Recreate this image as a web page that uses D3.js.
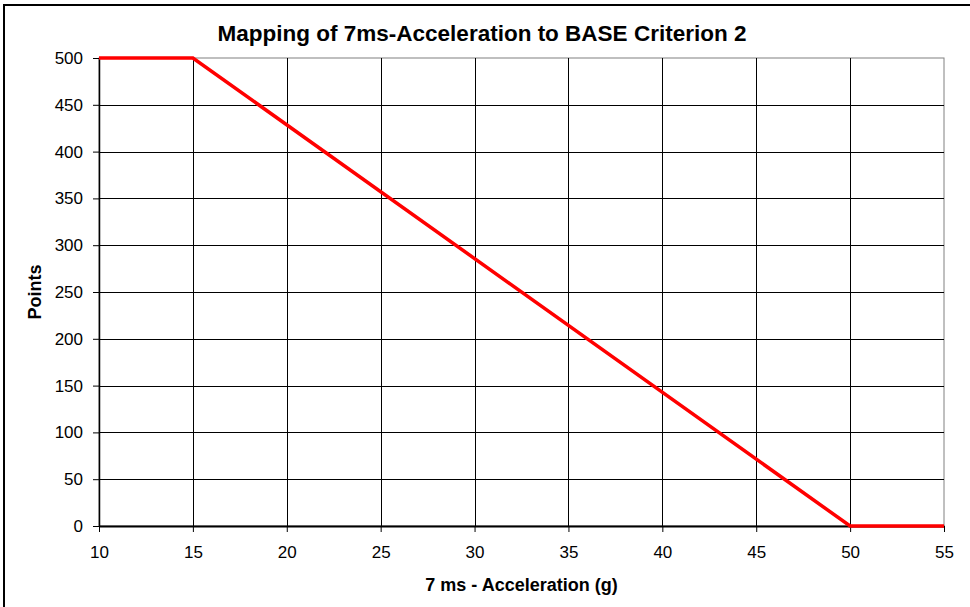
<!DOCTYPE html>
<html>
<head>
<meta charset="utf-8">
<script src="https://cdnjs.cloudflare.com/ajax/libs/d3/7.8.5/d3.min.js"></script>
<style>
  body { margin: 0; background: #fff; }
  text { font-family: Arial, "Liberation Sans", sans-serif; fill: #000; }
</style>
</head>
<body>
<div id="chart-area"></div>
<script>
// Data
var accel = [10, 15, 50, 55];
var points = [500, 500, 0, 0];
var xTicks = [10, 15, 20, 25, 30, 35, 40, 45, 50, 55];
var yTicks = [0, 50, 100, 150, 200, 250, 300, 350, 400, 450, 500];

var W = 970, H = 607;
var margin = { left: 99, right: 26, top: 58, bottom: 81 },
  width = W - margin.left - margin.right,
  height = H - margin.top - margin.bottom;

var svg = d3.select("#chart-area").append("svg")
  .attr("width", W)
  .attr("height", H);

// outer chart border (runs off right/bottom edge)
svg.append("rect")
  .attr("x", 4).attr("y", 5)
  .attr("width", W + 10).attr("height", H + 10)
  .attr("fill", "none")
  .attr("stroke", "#000")
  .attr("stroke-width", 2);

var g = svg.append("g")
  .attr("transform", "translate(" + margin.left + "," + margin.top + ")");

// Scales
var x = d3.scaleLinear().domain([10, 55]).range([0, width]);
var y = d3.scaleLinear().domain([0, 500]).range([height, 0]);

// plot area frame
g.append("rect")
  .attr("x", 0).attr("y", 0)
  .attr("width", width).attr("height", height)
  .attr("fill", "none")
  .attr("stroke", "#808080")
  .attr("stroke-width", 1);

// Gridlines
g.append("g").selectAll("line").data(yTicks.filter(d => d > 0 && d < 500))
  .enter().append("line")
  .attr("x1", 0).attr("x2", width)
  .attr("y1", d => Math.round(y(d)) + 0.5).attr("y2", d => Math.round(y(d)) + 0.5)
  .attr("stroke", "#000").attr("stroke-width", 1);

g.append("g").selectAll("line").data(xTicks.filter(d => d > 10 && d < 55))
  .enter().append("line")
  .attr("y1", 0).attr("y2", height)
  .attr("x1", d => Math.round(x(d)) + 0.5).attr("x2", d => Math.round(x(d)) + 0.5)
  .attr("stroke", "#000").attr("stroke-width", 1);

// Axes
var xAxisCall = d3.axisBottom(x).tickValues(xTicks).tickSize(6).tickSizeOuter(0).tickPadding(14);
var yAxisCall = d3.axisLeft(y).tickValues(yTicks).tickSize(6).tickSizeOuter(0).tickPadding(10);

var xAxis = g.append("g")
  .attr("class", "x axis")
  .attr("transform", "translate(0," + height + ")")
  .call(xAxisCall);
var yAxis = g.append("g")
  .attr("class", "y axis")
  .call(yAxisCall);

xAxis.select(".domain").attr("stroke", "#000").attr("stroke-width", 2);
yAxis.select(".domain").attr("stroke", "#000").attr("stroke-width", 1.5);
g.selectAll(".axis").attr("font-size", null).attr("font-family", null);
g.selectAll(".axis text").style("font-size", "17px").style("font-family", "Arial, 'Liberation Sans', sans-serif");
g.selectAll(".axis .tick line").attr("stroke", "#000");

// Line
var line = d3.line()
  .x(function(d, i) { return x(accel[i]); })
  .y(function(d) { return y(d); });

g.append("path")
  .attr("class", "line")
  .attr("fill", "none")
  .attr("stroke", "#ff0000")
  .attr("stroke-width", 3.5)
  .attr("d", line(points));

// Titles
svg.append("text")
  .attr("x", 482).attr("y", 41)
  .attr("text-anchor", "middle")
  .style("font-size", "22.5px")
  .style("font-weight", "bold")
  .text("Mapping of 7ms-Acceleration to BASE Criterion 2");

g.append("text")
  .attr("x", width / 2)
  .attr("y", height + 65)
  .attr("text-anchor", "middle")
  .style("font-size", "18px")
  .style("font-weight", "bold")
  .text("7 ms - Acceleration (g)");

g.append("text")
  .attr("transform", "rotate(-90)")
  .attr("x", -height / 2)
  .attr("y", -58)
  .attr("text-anchor", "middle")
  .style("font-size", "18px")
  .style("font-weight", "bold")
  .text("Points");
</script>
</body>
</html>
